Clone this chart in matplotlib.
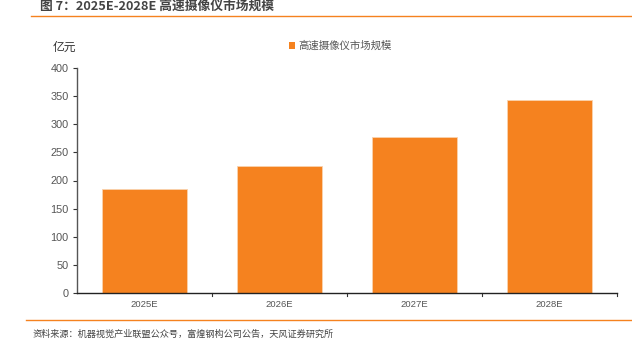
import matplotlib
matplotlib.use("Agg")
import matplotlib.pyplot as plt
from matplotlib.lines import Line2D
from matplotlib.patches import Patch

plt.rcParams['font.family'] = ['Noto Sans CJK SC', 'DejaVu Sans']

categories = ['2025E', '2026E', '2027E', '2028E']
values = [185, 226, 277, 344]
series_name = '高速摄像仪市场规模'
yticks = [0, 50, 100, 150, 200, 250, 300, 350, 400]

orange = '#F5821F'
W, H = 632, 354
fig = plt.figure(figsize=(W/100, H/100), dpi=100)

ax = fig.add_axes([77/W, 1-293/H, (617-77)/W, (293-68)/H])
x = list(range(len(categories)))
ax.bar(x, values, width=0.63, color=orange, edgecolor='#FAD2AE', linewidth=0.6)
ax.set_xlim(-0.5, len(categories)-0.5)
ax.set_ylim(0, 400)
ax.set_yticks(yticks)
ax.set_yticklabels([str(v) for v in yticks], fontsize=7.8, color='#555555', family='Liberation Sans')
ax.set_xticks(x)
ax.set_xticklabels(categories, fontsize=6.8, color='#555555', family='Liberation Sans')
ax.tick_params(axis='x', length=0, pad=5)
ax.tick_params(axis='y', length=3, width=0.8, color='#333333', pad=3)
# category boundary ticks
for b in [0.5, 1.5, 2.5, 3.5]:
    ax.plot([b, b], [0, -0.012*400], color='#333333', lw=0.8, clip_on=False)
for s in ['top', 'right']:
    ax.spines[s].set_visible(False)
ax.spines['left'].set_color('#555555')
ax.spines['left'].set_linewidth(1.0)
ax.spines['bottom'].set_color('#222222')
ax.spines['bottom'].set_linewidth(1.0)

# unit label
fig.text(64/W, 1-47/H, '亿元', fontsize=8.5, color='#333333', ha='center', va='center')

# legend
ax.legend(handles=[Patch(facecolor=orange, edgecolor='none')], labels=[series_name],
          loc='center left', bbox_to_anchor=(289/W, 1-46/H), bbox_transform=fig.transFigure,
          frameon=False, fontsize=7.5, handlelength=0.6, handleheight=0.6, handletextpad=0.3,
          labelcolor='#555555', borderaxespad=0, borderpad=0)

# title
fig.text(40/W, 1-6/H, '图 7：2025E-2028E 高速摄像仪市场规模', fontsize=9.2, fontweight='bold',
         color='#444444', ha='left', va='center')
fig.add_artist(Line2D([31/W, 1], [1-16/H, 1-16/H], color=orange, lw=1.0, transform=fig.transFigure))
fig.add_artist(Line2D([26/W, 1], [1-320/H, 1-320/H], color=orange, lw=1.0, transform=fig.transFigure))
fig.text(33/W, 1-334/H, '资料来源：机器视觉产业联盟公众号，富煌钢构公司公告，天风证券研究所', fontsize=6.6,
         color='#444444', ha='left', va='center')

fig.savefig('out.png', dpi=100)
